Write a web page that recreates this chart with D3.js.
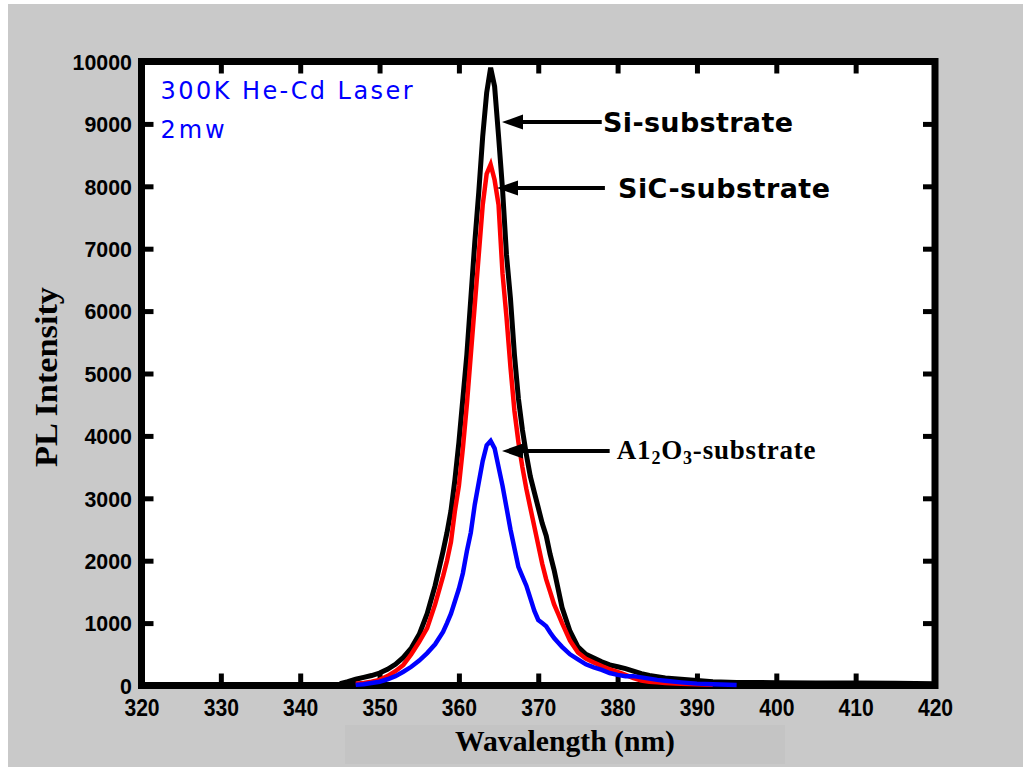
<!DOCTYPE html>
<html><head><meta charset="utf-8">
<script src="https://cdn.jsdelivr.net/npm/d3@7"></script>
<style>body{margin:0;background:#fff}</style></head>
<body><svg id="c" width="1023" height="767"></svg>
<script>
// ---- data ----
const wavelengths=[345,346,347,348,349,350,351,352,353,354,355,356,357,358,358.5,359,359.5,360,360.5,361,361.5,362,362.5,363,363.5,364,364.5,365,365.5,366,366.5,367,367.5,368,368.5,369,369.5,370,370.5,371,371.5,372,372.5,373,374,375,376,377,378,379,380,381,382,383,384,385,386,388,390,392,395,400,405,410,415,420];
const siSubstrate=[30,60,100,130,160,200,260,340,450,600,820,1150,1600,2150,2450,2800,3300,3900,4600,5300,6200,7100,7900,8800,9500,9900,9600,8800,7950,6900,6200,5300,4600,4100,3700,3350,3100,2850,2600,2400,2100,1850,1550,1250,870,620,500,440,380,330,300,270,230,190,160,140,120,100,80,60,50,45,40,40,35,30];
const sicSubstrate=[null,null,30,40,60,90,150,230,330,500,700,920,1300,1750,2000,2300,2800,3200,3800,4500,5300,6100,6900,7700,8200,8350,8100,7700,6600,5900,5100,4400,3900,3500,3150,2850,2550,2250,1950,1700,1500,1300,1150,1000,720,530,430,370,310,260,220,170,120,80,60,50,40,30,20,10,null,null,null,null,null,null];
const al2o3Substrate=[null,null,10,20,40,60,100,150,220,300,400,520,660,860,1000,1150,1350,1550,1800,2150,2450,2900,3250,3600,3850,3920,3800,3500,3200,2850,2500,2200,1900,1750,1600,1400,1200,1050,1000,950,850,760,690,620,500,420,340,290,250,200,170,150,150,130,110,90,75,50,30,20,10,null,null,null,null,null];
const xTicks=[320,330,340,350,360,370,380,390,400,410,420];
const yTicks=[0,1000,2000,3000,4000,5000,6000,7000,8000,9000,10000];
const seriesNames=["Si-substrate","SiC-substrate","Al2O3-substrate"];
const infoLines=["300K He-Cd Laser","2mw"];

// ---- drawing ----
const svg=d3.select("#c");
svg.append("rect").attr("x",8).attr("y",4).attr("width",1015).attr("height",763).attr("fill","#c9c9c9");
svg.append("rect").attr("x",345).attr("y",725).attr("width",440).attr("height",39).attr("fill","#c4c4c4");

const x=d3.scaleLinear().domain([320,420]).range([141.5,935]);
const y=d3.scaleLinear().domain([0,10000]).range([685.5,61.5]);

svg.append("rect").attr("x",x(320)).attr("y",y(10000))
  .attr("width",x(420)-x(320)).attr("height",y(0)-y(10000)).attr("fill","#fff");

const tickFont="'Liberation Sans', Arial, sans-serif";
function styleAxis(g){
  g.select(".domain").remove();
  g.selectAll(".tick line").attr("stroke","#000").attr("stroke-width",5);
}
const gb=svg.append("g").attr("transform",`translate(0,${y(0)})`)
  .call(d3.axisBottom(x).tickValues(xTicks).tickSize(-12).tickFormat(d3.format("d")));
styleAxis(gb);
gb.selectAll("text").attr("y",0).attr("dy",null)
  .attr("transform","translate(0,30) scale(0.88,1)")
  .attr("font-family",tickFont).attr("font-weight","bold").attr("font-size",24).attr("fill","#000");
const gt=svg.append("g").attr("transform",`translate(0,${y(10000)})`)
  .call(d3.axisTop(x).tickValues(xTicks).tickSize(-12).tickFormat(""));
styleAxis(gt);
const gl=svg.append("g").attr("transform",`translate(${x(320)},0)`)
  .call(d3.axisLeft(y).tickValues(yTicks).tickSize(-12).tickFormat(d3.format("d")));
styleAxis(gl);
gl.selectAll("text").attr("x",0).attr("dy","0.34em")
  .attr("transform","translate(-9.5,0) scale(0.93,1)")
  .attr("font-family",tickFont).attr("font-weight","bold").attr("font-size",23).attr("fill","#000");
const gr=svg.append("g").attr("transform",`translate(${x(420)},0)`)
  .call(d3.axisRight(y).tickValues(yTicks).tickSize(-12).tickFormat(""));
styleAxis(gr);

svg.append("rect").attr("x",x(320)).attr("y",y(10000))
  .attr("width",x(420)-x(320)).attr("height",y(0)-y(10000))
  .attr("fill","none").attr("stroke","#000").attr("stroke-width",7);

const line=d3.line().defined(d=>d[1]!=null).x(d=>x(d[0])).y(d=>y(d[1]));
const series=[
  {vals:siSubstrate,color:"#000000",w:5},
  {vals:sicSubstrate,color:"#ff0000",w:4.5},
  {vals:al2o3Substrate,color:"#0000ff",w:4.5}
];
series.forEach(s=>{
  svg.append("path").datum(wavelengths.map((w,i)=>[w,s.vals[i]]))
    .attr("d",line).attr("fill","none").attr("stroke",s.color)
    .attr("stroke-width",s.w).attr("stroke-linejoin","miter");
});

const info=svg.append("g").attr("font-family","'DejaVu Sans', Verdana, sans-serif").attr("font-size",24).attr("fill","#0000ff");
info.append("text").attr("x",x(322.4)).attr("y",99).attr("textLength",252).attr("lengthAdjust","spacing").text(infoLines[0]);
info.append("text").attr("x",x(322.4)).attr("y",138).attr("textLength",64).attr("lengthAdjust","spacing").text(infoLines[1]);

const ann=[
  {tip:[365.43,9030],end:378.0,text:378.16,len:190,name:0},
  {tip:[364.8,7973],end:378.4,text:380.05,len:212,name:1},
  {tip:[365.43,3758],end:379.0,text:379.9,len:0,name:2}
];
ann.forEach(a=>{
  const tx=x(a.tip[0]), ty=y(a.tip[1]);
  svg.append("line").attr("x1",tx+15).attr("y1",ty).attr("x2",x(a.end)).attr("y2",ty)
    .attr("stroke","#000").attr("stroke-width",4);
  svg.append("path").attr("d",`M${tx},${ty} L${tx+21},${ty-7.5} L${tx+21},${ty+7.5} Z`).attr("fill","#000");
  if(a.name<2){
    svg.append("text").attr("x",x(a.text)).attr("y",ty+10)
      .attr("font-family","'DejaVu Sans', Verdana, sans-serif").attr("font-weight","bold")
      .attr("font-size",27).attr("textLength",a.len).attr("lengthAdjust","spacing")
      .attr("fill","#000").text(seriesNames[a.name]);
  } else {
    const t=svg.append("text").attr("x",x(a.text)).attr("y",ty+8)
      .attr("font-family","'Liberation Serif', 'Times New Roman', serif").attr("font-weight","bold")
      .attr("font-size",27).attr("letter-spacing",0.8).attr("fill","#000");
    t.append("tspan").text("A1");
    t.append("tspan").attr("font-size",18).attr("dy",5).text("2");
    t.append("tspan").attr("dy",-5).text("O");
    t.append("tspan").attr("font-size",18).attr("dy",5).text("3");
    t.append("tspan").attr("dy",-5).text("-substrate");
  }
});

svg.append("text").attr("x",565).attr("y",751).attr("text-anchor","middle")
  .attr("font-family","'Liberation Serif', 'Times New Roman', serif").attr("font-weight","bold")
  .attr("font-size",29).attr("textLength",220).attr("lengthAdjust","spacingAndGlyphs").attr("fill","#000")
  .text("Wavalength (nm)");
svg.append("text").attr("transform","translate(57,377) rotate(-90)").attr("text-anchor","middle")
  .attr("font-family","'Liberation Serif', 'Times New Roman', serif").attr("font-weight","bold")
  .attr("font-size",32).attr("textLength",180).attr("lengthAdjust","spacingAndGlyphs").attr("fill","#000")
  .text("PL Intensity");
</script></body></html>
